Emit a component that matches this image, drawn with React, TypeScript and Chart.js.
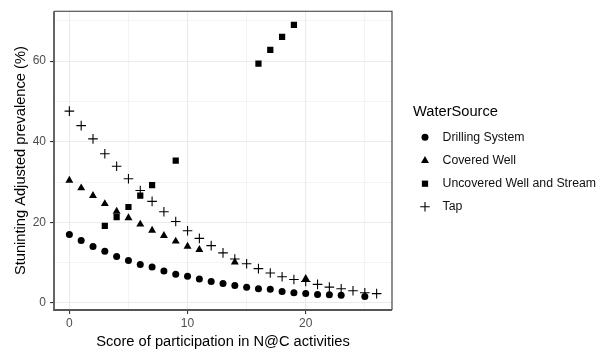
import React, { useEffect, useRef } from "react";
import { Chart, registerables } from "chart.js";

Chart.register(...registerables);

const drillX = [0, 1, 2, 3, 4, 5, 6, 7, 8, 9, 10, 11, 12, 13, 14, 15, 16, 17, 18, 19, 20, 21, 22, 23, 25];
const drillY = [17.0, 15.5, 14.0, 12.8, 11.5, 10.5, 9.5, 8.9, 7.9, 7.1, 6.6, 5.9, 5.3, 4.8, 4.3, 3.9, 3.5, 3.4, 2.8, 2.5, 2.3, 2.1, 2.0, 1.9, 1.6];

const coveredX = [0, 1, 2, 3, 4, 5, 6, 7, 8, 9, 10, 11, 14, 20];
const coveredY = [30.4, 28.5, 26.6, 24.6, 22.7, 21.1, 19.5, 18.0, 16.7, 15.3, 14.0, 13.2, 10.1, 6.0];

const uncoveredX = [3, 4, 5, 6, 7, 9, 16, 17, 18, 19];
const uncoveredY = [19.1, 21.3, 23.8, 26.6, 29.2, 35.3, 59.4, 62.8, 66.0, 69.0];

const tapX = [0, 1, 2, 3, 4, 5, 6, 7, 8, 9, 10, 11, 12, 13, 14, 15, 16, 17, 18, 19, 20, 21, 22, 23, 24, 25, 26];
const tapY = [47.6, 44.0, 40.7, 37.0, 33.9, 30.8, 27.9, 25.2, 22.6, 20.2, 17.9, 16.0, 14.2, 12.4, 10.9, 9.7, 8.5, 7.4, 6.5, 5.8, 5.3, 4.6, 3.9, 3.5, 3.0, 2.5, 2.3];

const seriesNames = ["Drilling System", "Covered Well", "Uncovered Well and Stream", "Tap"];
const legendTitle = "WaterSource";
const xTitle = "Score of participation in N@C activities";
const yTitle = "Stuninting Adjusted prevalence (%)";
const xTickValues = [0, 5, 10, 15, 20, 25];
const yTickValues = [0, 10, 20, 30, 40, 50, 60, 70];

const FONT = "'Liberation Sans', Arial, sans-serif";

const toPts = (xs: number[], ys: number[]) => xs.map((x, i) => ({ x, y: ys[i] }));

const R_CIRCLE = 3.5;
const R_TRI = 4.6;
const R_RECT = 4.4;
const R_CROSS = 4.8;

function drawMarker(ctx: CanvasRenderingContext2D, style: string, x: number, y: number) {
  ctx.save();
  ctx.fillStyle = "#000";
  ctx.strokeStyle = "#000";
  ctx.beginPath();
  if (style === "circle") {
    ctx.arc(x, y, R_CIRCLE, 0, Math.PI * 2);
    ctx.fill();
  } else if (style === "triangle") {
    const r = R_TRI;
    ctx.moveTo(x, y - r);
    ctx.lineTo(x + r * Math.sin((2 * Math.PI) / 3), y - r * Math.cos((2 * Math.PI) / 3));
    ctx.lineTo(x + r * Math.sin((4 * Math.PI) / 3), y - r * Math.cos((4 * Math.PI) / 3));
    ctx.closePath();
    ctx.fill();
  } else if (style === "rect") {
    const s = R_RECT * Math.SQRT1_2;
    ctx.rect(x - s, y - s, 2 * s, 2 * s);
    ctx.fill();
  } else {
    ctx.lineWidth = 1.1;
    ctx.moveTo(x - R_CROSS, y);
    ctx.lineTo(x + R_CROSS, y);
    ctx.moveTo(x, y - R_CROSS);
    ctx.lineTo(x, y + R_CROSS);
    ctx.stroke();
  }
  ctx.restore();
}

const styles = ["circle", "triangle", "rect", "cross"];

const framePlugin = {
  id: "frame",
  afterDatasetsDraw(chart: any) {
    const { ctx, chartArea } = chart;
    const { left, right, top, bottom } = chartArea;
    ctx.save();
    ctx.strokeStyle = "#333333";
    ctx.lineWidth = 1.1;
    ctx.beginPath();
    ctx.moveTo(left, top);
    ctx.lineTo(right, top);
    ctx.lineTo(right, bottom);
    ctx.stroke();
    ctx.strokeStyle = "#555555";
    ctx.lineWidth = 1.8;
    ctx.beginPath();
    ctx.moveTo(left, top);
    ctx.lineTo(left, bottom);
    ctx.lineTo(right, bottom);
    ctx.stroke();
    ctx.restore();
  },
  afterDraw(chart: any) {
    const ctx = chart.ctx as CanvasRenderingContext2D;
    ctx.save();
    ctx.fillStyle = "#000";
    ctx.textBaseline = "middle";
    ctx.textAlign = "left";
    ctx.font = `14.67px ${FONT}`;
    ctx.fillText(legendTitle, 413, 112);
    ctx.font = `12.3px ${FONT}`;
    const ys = [137.3, 160.7, 183.7, 206.7];
    seriesNames.forEach((name, i) => {
      drawMarker(ctx, styles[i], 425, ys[i]);
      ctx.fillStyle = "#111";
      ctx.fillText(name, 442.5, ys[i]);
    });
    ctx.restore();
  },
};

export default function App() {
  const ref = useRef<HTMLCanvasElement | null>(null);
  useEffect(() => {
    if (!ref.current) return;
    const common = { backgroundColor: "#000", borderColor: "#000", showLine: false };
    const chart = new Chart(ref.current, {
      type: "scatter",
      data: {
        datasets: [
          { label: seriesNames[0], data: toPts(drillX, drillY), pointStyle: "circle", pointRadius: R_CIRCLE, borderWidth: 0, ...common },
          { label: seriesNames[1], data: toPts(coveredX, coveredY), pointStyle: "triangle", pointRadius: R_TRI, borderWidth: 0, ...common },
          { label: seriesNames[2], data: toPts(uncoveredX, uncoveredY), pointStyle: "rect", pointRadius: R_RECT, borderWidth: 0, ...common },
          { label: seriesNames[3], data: toPts(tapX, tapY), pointStyle: "cross", pointRadius: R_CROSS, borderWidth: 1.1, ...common },
        ] as any,
      },
      options: {
        animation: false,
        responsive: false,
        events: [],
        layout: { padding: { left: 0, top: 9.5, right: 214, bottom: 0 } },
        plugins: { legend: { display: false }, tooltip: { enabled: false } },
        scales: {
          x: {
            type: "linear",
            min: -1.3,
            max: 27.3,
            afterBuildTicks: (s: any) => {
              s.ticks = xTickValues.map((v) => ({ value: v }));
            },
            afterFit: (s: any) => {
              s.height = 42;
            },
            ticks: {
              callback: (v: any) => (Number(v) % 10 === 0 ? String(v) : ""),
              color: "#4D4D4D",
              font: { family: FONT, size: 12 },
              padding: 2,
              maxRotation: 0,
              autoSkip: false,
            },
            grid: {
              color: "#EBEBEB",
              lineWidth: (c: any) => (c.tick && c.tick.value % 10 === 0 ? 1.1 : 0.55),
              tickColor: (c: any) => (c.tick && c.tick.value % 10 === 0 ? "#333333" : "rgba(0,0,0,0)"),
              tickWidth: 1.1,
              tickLength: 4,
            },
            border: { display: false },
            title: {
              display: true,
              text: xTitle,
              color: "#000",
              font: { family: FONT, size: 14.67 },
              padding: { top: 0, bottom: 1.5 },
            },
          },
          y: {
            type: "linear",
            min: -1.77,
            max: 72.4,
            afterBuildTicks: (s: any) => {
              s.ticks = yTickValues.map((v) => ({ value: v }));
            },
            afterFit: (s: any) => {
              s.width = 54;
            },
            ticks: {
              callback: (v: any) => (Number(v) % 20 === 0 ? String(v) : ""),
              color: "#4D4D4D",
              font: { family: FONT, size: 12 },
              padding: 4,
              autoSkip: false,
            },
            grid: {
              color: "#EBEBEB",
              lineWidth: (c: any) => (c.tick && c.tick.value % 20 === 0 ? 1.1 : 0.55),
              tickColor: (c: any) => (c.tick && c.tick.value % 20 === 0 ? "#333333" : "rgba(0,0,0,0)"),
              tickWidth: 1.1,
              tickLength: 4,
            },
            border: { display: false },
            title: {
              display: true,
              text: yTitle,
              color: "#000",
              font: { family: FONT, size: 14.67 },
              padding: { top: 12, bottom: 0 },
            },
          },
        },
      } as any,
      plugins: [framePlugin],
    });
    return () => chart.destroy();
  }, []);
  return (
    <div style={{ position: "fixed", left: 0, top: 0, width: 606, height: 352, background: "#fff" }}>
      <canvas ref={ref} width={606} height={352} style={{ width: 606, height: 352 }} />
    </div>
  );
}
